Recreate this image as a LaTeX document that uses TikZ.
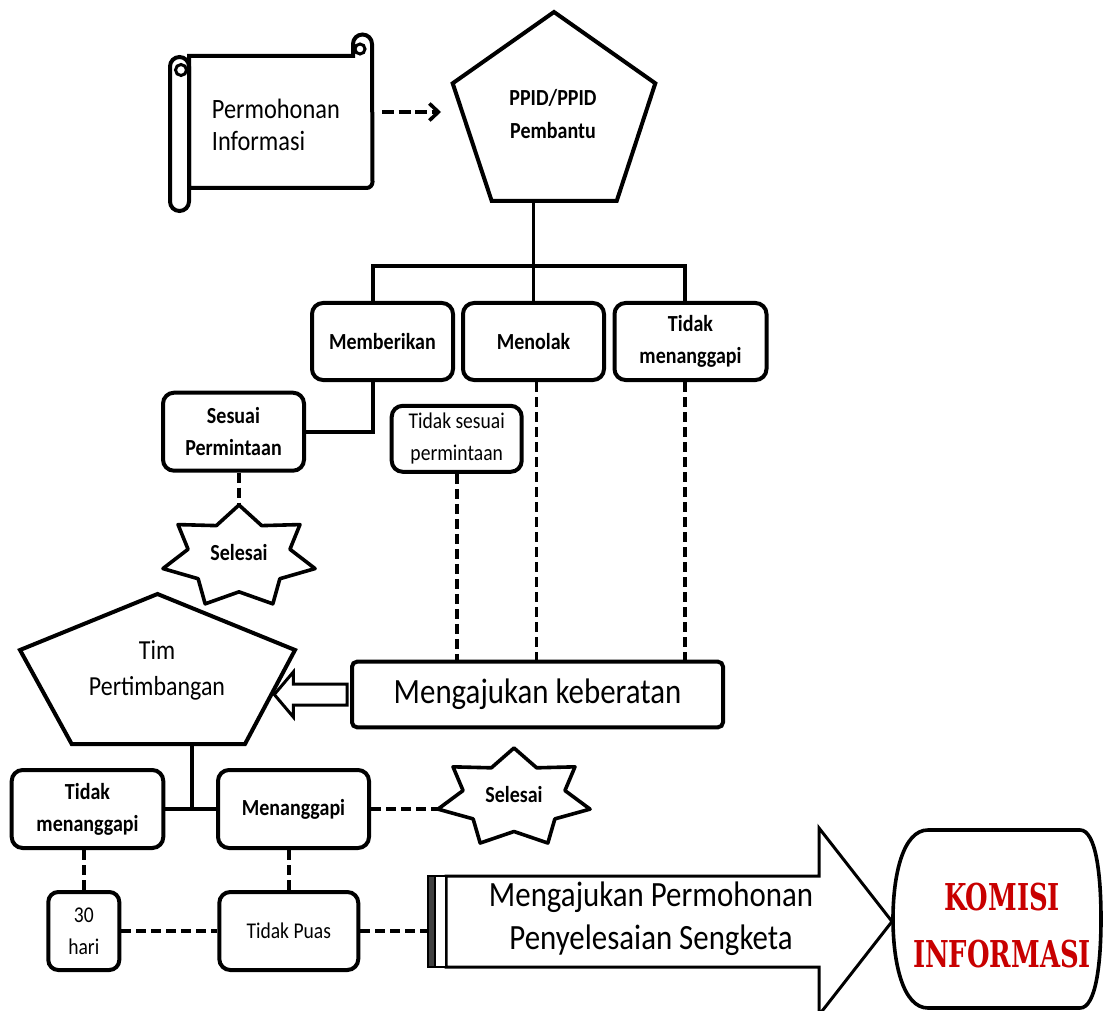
\documentclass[tikz,border=0pt]{standalone}
\usepackage{fontspec}
\setmainfont{Carlito}[FakeStretch=0.87]
\newfontfamily\komfont{DejaVu Serif}[FakeStretch=0.7]
\usetikzlibrary{arrows.meta}
\definecolor{komred}{RGB}{200,0,0}
\newcommand\boxbf{\fontsize{23}{32}\selectfont\bfseries}
\newcommand\boxrg{\fontsize{22.5}{32}\selectfont}
\begin{document}
\begin{tikzpicture}[x=1pt,y=-1pt,
  box/.style={draw, line width=4pt, rounded corners=11pt, fill=white, inner sep=0pt, align=center, font=\boxbf},
  rbox/.style={box, font=\boxrg},
  conn/.style={line width=3.6pt},
  dconn/.style={line width=3.6pt, dash pattern=on 10pt off 5pt},
  lbl/.style={inner sep=0pt, align=center},
  outl/.style={draw, line width=4pt, line join=miter, fill=white},
  starline/.style={draw, line width=3.6pt, line join=round, fill=white},
]
\useasboundingbox (0,0) rectangle (1104,1011);
\fill[white] (0,0) rectangle (1104,1011);

% scroll
\draw[outl] (189,56) -- (353,56) -- (353,44) arc[start angle=180,end angle=0,radius=9.5pt] -- (372.5,182) arc[start angle=0,end angle=-90,radius=6pt] -- (189,188) -- cycle;
\draw[line width=3pt] (360,49) circle[radius=5pt];
\draw[outl, rounded corners=9.5pt] (170,57) rectangle (189,211);
\draw[line width=3pt] (181,70) circle[radius=5.5pt];
\node[lbl, align=left, anchor=west, font=\fontsize{28}{32}\selectfont] (perm) at (211.7,125) {Permohonan\\Informasi};

% dashed arrow to PPID
\coordinate (scrR) at (382,112);
\coordinate (ppidL) at (441,112);
\draw[line width=3.6pt, dash pattern=on 12pt off 4.5pt, -{Straight Barb[length=9pt,width=17pt]}] (scrR) -- (ppidL);

% PPID pentagon
\draw[outl] (554,12) -- (655.3,83.3) -- (616.7,201) -- (491.7,201) -- (452.7,83.3) -- cycle;
\node[lbl, font=\fontsize{23}{33}\selectfont\bfseries] (ppid) at (553,114) {PPID/PPID\\Pembantu};
\coordinate (ppidB) at (533.5,201);

% top row
\node[box, minimum width=141pt, minimum height=77pt] (memb) at (382.5,341.5) {Memberikan};
\node[box, minimum width=141pt, minimum height=77pt] (menolak) at (533.5,341.5) {Menolak};
\node[box, minimum width=152pt, minimum height=77pt] (tm1) at (690.5,341.5) {Tidak\\menanggapi};

\coordinate (busL) at (373,266);
\coordinate (busR) at (685,266);
\draw[conn] (ppidB) -- (menolak.north);
\draw[conn] (busL |- memb.north) -- (busL) -- (busR) -- (busR |- tm1.north);

% Sesuai / Tidak sesuai
\node[box, minimum width=141pt, minimum height=78pt] (sesuai) at (233.5,431.7) {Sesuai\\Permintaan};
\draw[conn] (busL |- memb.south) |- (sesuai.east);
\node[rbox, minimum width=130pt, minimum height=66pt] (ts) at (456.7,438.8) {Tidak sesuai\\permintaan};

% star 1
\begin{scope}[shift={(239,557)}, xscale=78, yscale=52]
\draw[starline] (270:1) \foreach \i in {1,...,13} { -- ({270+\i*360/14}:{0.835+0.165*cos(\i*180)}) } -- cycle;
\end{scope}
\node[lbl, font=\boxbf] (sel1) at (239,553) {Selesai};
\coordinate (s1top) at (239,505);
\draw[dconn] (sesuai.south -| s1top) -- (s1top);

% Mengajukan keberatan
\node[draw, line width=4pt, rounded corners=5pt, fill=white, minimum width=371pt, minimum height=65.6pt, inner sep=0pt, font=\fontsize{35.5}{42}\selectfont] (mk) at (537.5,694.5) {Mengajukan keberatan};
\draw[dconn] (ts.south) -- (ts.south |- mk.north);
\coordinate (mdash) at ([xshift=3pt]menolak.south);
\draw[dconn] (mdash) -- (mdash |- mk.north);
\draw[dconn] (busR |- tm1.south) -- (busR |- mk.north);

% Tim pentagon
\draw[outl] (157.5,594) -- (295,650) -- (245,744) -- (71.7,744) -- (20,650) -- cycle;
\node[lbl, font=\fontsize{27.5}{36}\selectfont] (tim) at (157,670) {Tim\\Pertimbangan};

% hollow arrow
\draw[line width=3pt, fill=white, line join=miter] (mk.west) ++(-3,-10.5) -- ++(-53.7,0) -- ++(0,-12) -- ++(-19,22.5) -- ++(19,22.5) -- ++(0,-12) -- ++(53.7,0) -- cycle;

% bottom row
\node[box, minimum width=151.6pt, minimum height=78pt] (tm2) at (87.5,809) {Tidak\\menanggapi};
\node[box, minimum width=151pt, minimum height=78pt] (menang) at (293.5,809) {Menanggapi};
\coordinate (timB) at (191.7,744);
\draw[conn] (timB) -- (timB |- tm2.east);
\draw[conn] (tm2.east) -- (menang.west);

% star 2
\begin{scope}[shift={(514,798)}, xscale=78, yscale=50]
\draw[starline] (270:1) \foreach \i in {1,...,13} { -- ({270+\i*360/14}:{0.835+0.165*cos(\i*180)}) } -- cycle;
\end{scope}
\node[lbl, font=\boxbf] (sel2) at (514,795) {Selesai};
\coordinate (s2left) at (438,809);
\draw[dconn] (menang.east) -- (s2left);

\node[rbox, rounded corners=10pt, minimum width=71pt, minimum height=78pt] (hari) at (83.8,931) {30\\hari};
\node[rbox, minimum width=139pt, minimum height=78pt] (puas) at (288.8,931) {Tidak Puas};
\draw[dconn] (hari.north |- tm2.south) -- (hari.north);
\draw[dconn] (puas.north |- menang.south) -- (puas.north);
\draw[dconn] (hari.east) -- (puas.west);
\coordinate (arrL) at (428,931);
\draw[dconn] (puas.east) -- (arrL);

% big arrow
\draw[line width=3pt, fill=white, line join=miter] (446,876) -- (819,876) -- (819,828) -- (892,921.5) -- (819,1015) -- (819,967) -- (446,967) -- cycle;
\draw[line width=1.8pt, fill=black!75] (428,876) rectangle (435,967);
\draw[line width=1.8pt, fill=white] (435,876) rectangle (446,967);
\node[lbl, font=\fontsize{35.5}{43}\selectfont] (mp) at (651,919) {Mengajukan Permohonan\\Penyelesaian Sengketa};

% KOMISI INFORMASI
\draw[line width=3.6pt, fill=white] (928,830) -- (1080,830) .. controls (1096,830) and (1101,875) .. (1101,919) .. controls (1101,963) and (1096,1008) .. (1080,1008) -- (928,1008) .. controls (903,1008) and (893,963) .. (893,919) .. controls (893,875) and (903,830) .. (928,830) -- cycle;
\node[lbl, text=komred, font=\komfont\bfseries\fontsize{37}{57}\selectfont] (komisi) at (1002,926) {KOMISI\\INFORMASI};
\end{tikzpicture}
\end{document}
